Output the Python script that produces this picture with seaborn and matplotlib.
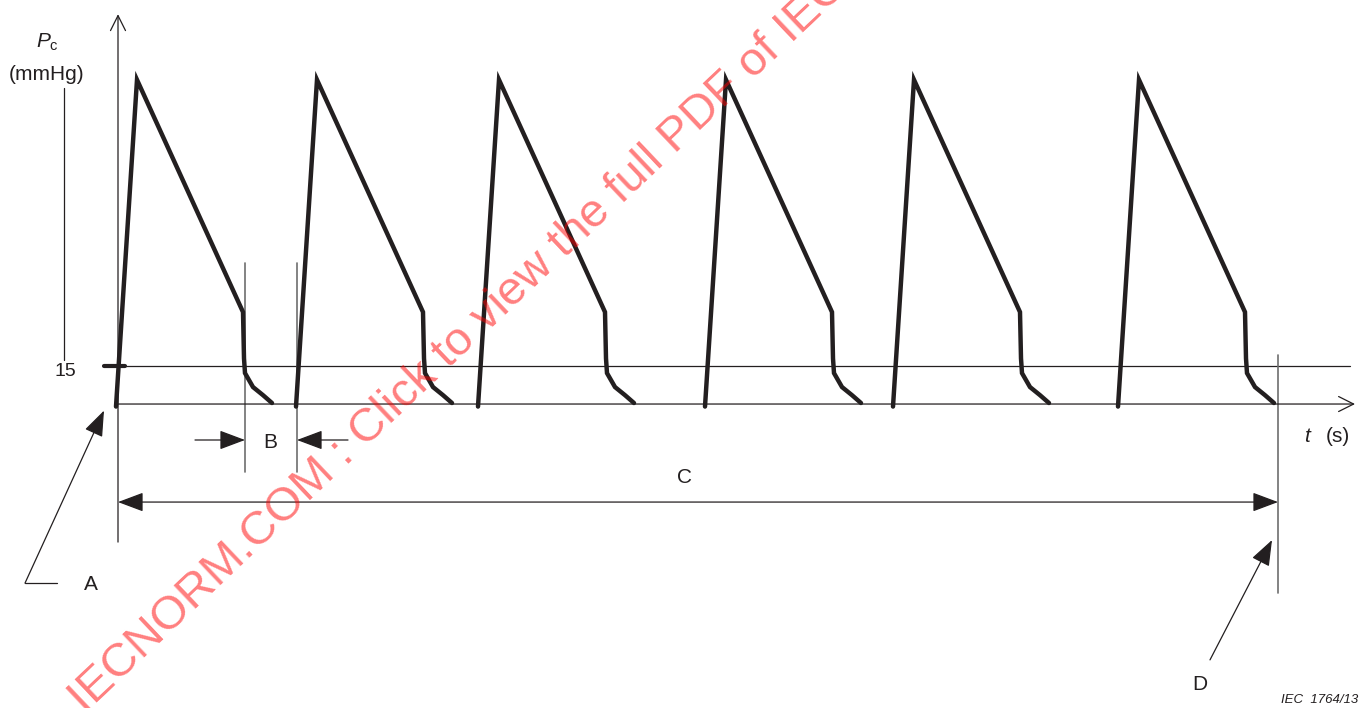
import numpy as np
import pandas as pd
import matplotlib
matplotlib.use("Agg")
import matplotlib.pyplot as plt
import seaborn as sns

# ------------------------------------------------------------
# Cuff pressure P_c vs time: six inflation / deflation cycles
# ------------------------------------------------------------

# onset time of each cycle (s)
CYCLE_START = [-0.2, 17.8, 36.0, 58.7, 77.5, 100.0]

# shape of one cycle: time after onset (s) and pressure (mmHg)
SHAPE_DT = [0.0, 2.1, 12.7, 12.8, 12.9, 13.7, 14.7, 15.6]
SHAPE_P = [-1.0, 128.0, 36.3, 18.0, 12.2, 6.7, 3.5, 0.4]

THRESHOLD = 15          # mmHg
T_END = 116.0           # end of measurement (s)
B_GAP = (12.7, 17.9)    # interval B

INK = "#231f20"
GREY = "#6e6e6e"


def main():
    sns.set_theme(style="white")
    plt.rcParams["font.family"] = ["Liberation Sans", "DejaVu Sans"]
    plt.rcParams["mathtext.fontset"] = "custom"
    plt.rcParams["mathtext.rm"] = "Liberation Sans"
    plt.rcParams["mathtext.it"] = "Liberation Sans:italic"

    rows = []
    for k, t0 in enumerate(CYCLE_START):
        for i, (dt, p) in enumerate(zip(SHAPE_DT, SHAPE_P)):
            rows.append({"cycle": k, "order": i, "t": t0 + dt, "P": p})
    df = pd.DataFrame(rows)

    fig = plt.figure(figsize=(13.7, 7.08), dpi=100)
    ax = fig.add_axes([0, 0, 1, 1])
    ax.set_xlim(-11.8, 125.2)
    ax.set_ylim(-120.0, 159.5)
    ax.axis("off")

    sns.lineplot(data=df, x="t", y="P", units="cycle", estimator=None,
                 sort=False, color=INK, lw=3.2, ax=ax, legend=False,
                 solid_joinstyle="miter", zorder=4)

    thin = dict(color=INK, lw=0.9)
    open_arrow = dict(arrowstyle="->,head_length=0.9,head_width=0.45",
                      color=INK, lw=0.9, shrinkA=0, shrinkB=0)
    fill_arrow = dict(arrowstyle="-|>,head_length=0.8,head_width=0.3",
                      color=INK, lw=0.9, shrinkA=0, shrinkB=0, mutation_scale=20)

    # axes with open arrowheads
    ax.annotate("", xy=(0, 153.9), xytext=(0, -54.5), arrowprops=open_arrow)
    ax.annotate("", xy=(123.7, 0), xytext=(0, 0), arrowprops=open_arrow)

    # 15 mmHg threshold line and tick
    ax.plot([-1.4, 123.2], [THRESHOLD, THRESHOLD], **thin)
    ax.plot([-1.4, 0.7], [THRESHOLD, THRESHOLD], color=INK, lw=3)
    ax.text(-5.3, 13.0, "15", fontsize=14, ha="center", va="center", color=INK)
    ax.plot([-5.4, -5.4], [17.4, 124.7], **thin)

    ax.text(-7.1, 142.9, r"$P_\mathrm{c}$", fontsize=15, ha="center", va="center", color=INK)
    ax.text(-7.1, 129.9, "(mmHg)", fontsize=15, ha="center", va="center", color=INK)
    ax.text(119.0, -13.0, r"$t$", fontsize=15, ha="center", va="center", color=INK)
    ax.text(122.0, -13.0, "(s)", fontsize=15, ha="center", va="center", color=INK)

    # interval B
    for x in B_GAP:
        ax.plot([x, x], [-26.8, 55.7], color=GREY, lw=1.2)
    ax.annotate("", xy=(B_GAP[0], -14.2), xytext=(7.7, -14.2), arrowprops=fill_arrow)
    ax.annotate("", xy=(B_GAP[1], -14.2), xytext=(23.0, -14.2), arrowprops=fill_arrow)
    ax.text(15.2, -15.2, "B", fontsize=15, ha="center", va="center", color=INK)

    # interval C
    ax.plot([T_END, T_END], [-74.6, 19.3], color=GREY, lw=1.2)
    both = dict(fill_arrow)
    both["arrowstyle"] = "<|-|>,head_length=0.8,head_width=0.3"
    ax.annotate("", xy=(T_END, -38.7), xytext=(0, -38.7), arrowprops=both)
    ax.text(56.6, -29.2, "C", fontsize=15, ha="center", va="center", color=INK)

    # leaders A and D
    ax.plot([-9.3, -6.1], [-70.7, -70.7], **thin)
    ax.annotate("", xy=(-1.4, -2.6), xytext=(-9.3, -70.7), arrowprops=fill_arrow)
    ax.text(-2.7, -71.4, "A", fontsize=15, ha="center", va="center", color=INK)
    ax.annotate("", xy=(115.4, -53.7), xytext=(109.2, -101.0), arrowprops=fill_arrow)
    ax.text(108.2, -110.9, "D", fontsize=15, ha="center", va="center", color=INK)

    ax.text(124.0, -116.8, "IEC  1764/13", fontsize=9.5, style="italic",
            ha="right", va="center", color=INK)

    # watermark
    ax.text(-3.3, -122.5, "IECNORM.COM : Click to view the full PDF of IEC",
            fontsize=34, color="red", alpha=0.5, rotation=43.5,
            rotation_mode="anchor", ha="left", va="baseline", zorder=6, clip_on=True)

    fig.savefig("out.png", dpi=100)
    plt.close(fig)


if __name__ == "__main__":
    main()
